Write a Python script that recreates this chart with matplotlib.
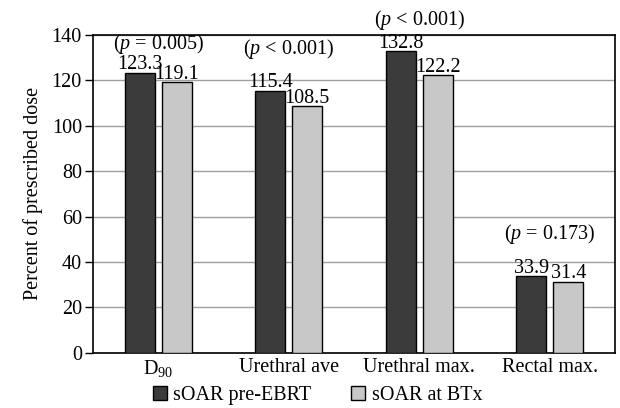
# Dose to the surrogate OAR, before EBRT vs at brachytherapy

import matplotlib.pyplot as plt
import numpy as np

plt.rcParams['font.family'] = ['Liberation Serif', 'DejaVu Serif']
plt.rcParams['mathtext.fontset'] = 'custom'
plt.rcParams['mathtext.rm'] = 'Liberation Serif'
plt.rcParams['mathtext.it'] = 'Liberation Serif:italic'

categories = ['D$_{90}$', 'Urethral ave', 'Urethral max.', 'Rectal max.']
pre_ebrt = [123.3, 115.4, 132.8, 33.9]
at_btx = [119.1, 108.5, 122.2, 31.4]
p_labels = ['($\\it{p}$ = 0.005)', '($\\it{p}$ < 0.001)',
            '($\\it{p}$ < 0.001)', '($\\it{p}$ = 0.173)']
p_label_y = [136.0, 133.5, 146.5, 52.5]
series_names = ['sOAR pre-EBRT', 'sOAR at BTx']
y_ticks = [0, 20, 40, 60, 80, 100, 120, 140]

dark = '#3b3b3b'
light = '#c8c8c8'
fs = 14.5

fig = plt.figure(figsize=(6.2, 4.08), dpi=100)
ax = fig.add_axes([0.15, 0.135, 0.842, 0.78])

x = np.arange(len(categories))
w = 0.23
off = 0.142
b1 = ax.bar(x - off, pre_ebrt, w, color=dark, edgecolor='black', linewidth=1.0,
            zorder=3, label=series_names[0])
b2 = ax.bar(x + off, at_btx, w, color=light, edgecolor='black', linewidth=1.0,
            zorder=3, label=series_names[1])

for bars, vals in [(b1, pre_ebrt), (b2, at_btx)]:
    for rect, v in zip(bars, vals):
        ax.text(rect.get_x() + rect.get_width() / 2, v - 0.8, f'{v:.1f}',
                ha='center', va='bottom', fontsize=fs, zorder=4)

for xi, lab, yy in zip(x, p_labels, p_label_y):
    ax.text(xi, yy, lab, ha='center', va='center', fontsize=fs,
            clip_on=False, zorder=4)

ax.set_xlim(-0.5, len(categories) - 0.5)
ax.set_ylim(0, 140)
ax.set_yticks(y_ticks)
ax.tick_params(axis='y', labelsize=fs, length=6, width=1, direction='out', pad=2)
ax.set_xticks(x)
ax.set_xticklabels(categories, fontsize=fs)
ax.tick_params(axis='x', length=0, pad=4)
ax.yaxis.grid(True, color='#a0a0a0', linewidth=1.0, zorder=0)
ax.set_axisbelow(True)
for s in ax.spines.values():
    s.set_color('black')
    s.set_linewidth(1.2)

ax.set_ylabel('Percent of prescribed dose', fontsize=fs, labelpad=6)

ax.legend(loc='upper center', bbox_to_anchor=(0.43, -0.072), ncol=2,
          frameon=False, fontsize=fs, handlelength=0.7, handleheight=0.7,
          handletextpad=0.3, columnspacing=2.0, borderpad=0)

fig.savefig('out.png', dpi=100, facecolor='white')
plt.close()
